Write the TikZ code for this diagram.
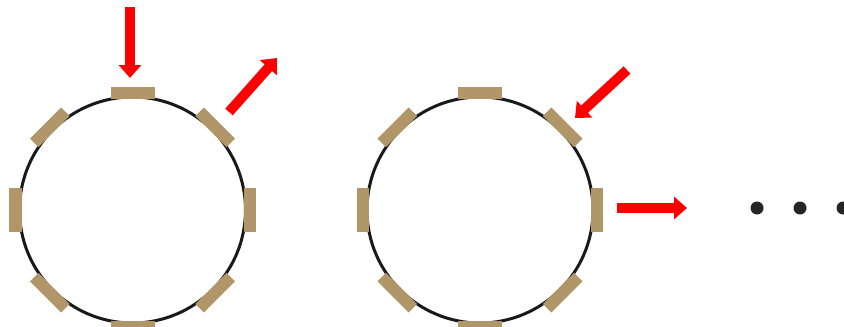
\documentclass[tikz,border=0pt]{standalone}
\usepackage{xcolor}
\usepackage{tikz}
\usetikzlibrary{arrows.meta, calc}

\definecolor{padtan}{RGB}{176,150,104}

\begin{document}
\begin{tikzpicture}[
    x=0.03cm, y=0.03cm,
    ring/.style={draw=black!90, circle, line width=0.09cm, minimum size=6.78cm, inner sep=0pt},
    pad/.style={fill=padtan, rectangle, minimum width=0.36cm, minimum height=1.32cm, inner sep=0pt},
    flow/.style={red, line width=0.3cm, -{Triangle[length=0.39cm, width=0.66cm]}},
    dot/.style={fill=black!85, circle, minimum size=0.39cm, inner sep=0pt}
]
    \useasboundingbox (0,0) rectangle (844,326);

    % Rings
    \node[ring] (R1) at (132.5,116) {};
    \node[ring] (R2) at (480,116) {};

    % Pads
    \foreach \rg in {R1,R2}
        \foreach \a in {0,45,...,315}
            \node[pad, rotate=\a] (\rg-\a) at ($(\rg)+(\a:117)$) {};

    % Flows
    \coordinate (in1) at (130,319);
    \coordinate (in1tip) at (130,248);
    \coordinate (out1) at (229,214);
    \coordinate (out1tip) at (277,268);
    \coordinate (in2) at (627,256);
    \coordinate (in2tip) at (575,208);
    \coordinate (out2) at (617,118);
    \coordinate (out2tip) at (687,118);

    \draw[flow] (in1) -- (in1tip);
    \draw[flow] (out1) -- (out1tip);
    \draw[flow] (in2) -- (in2tip);
    \draw[flow] (out2) -- (out2tip);

    % Ellipsis
    \foreach \x [count=\i] in {757,800,843}
        \node[dot] (d\i) at (\x,118) {};

\end{tikzpicture}
\end{document}
